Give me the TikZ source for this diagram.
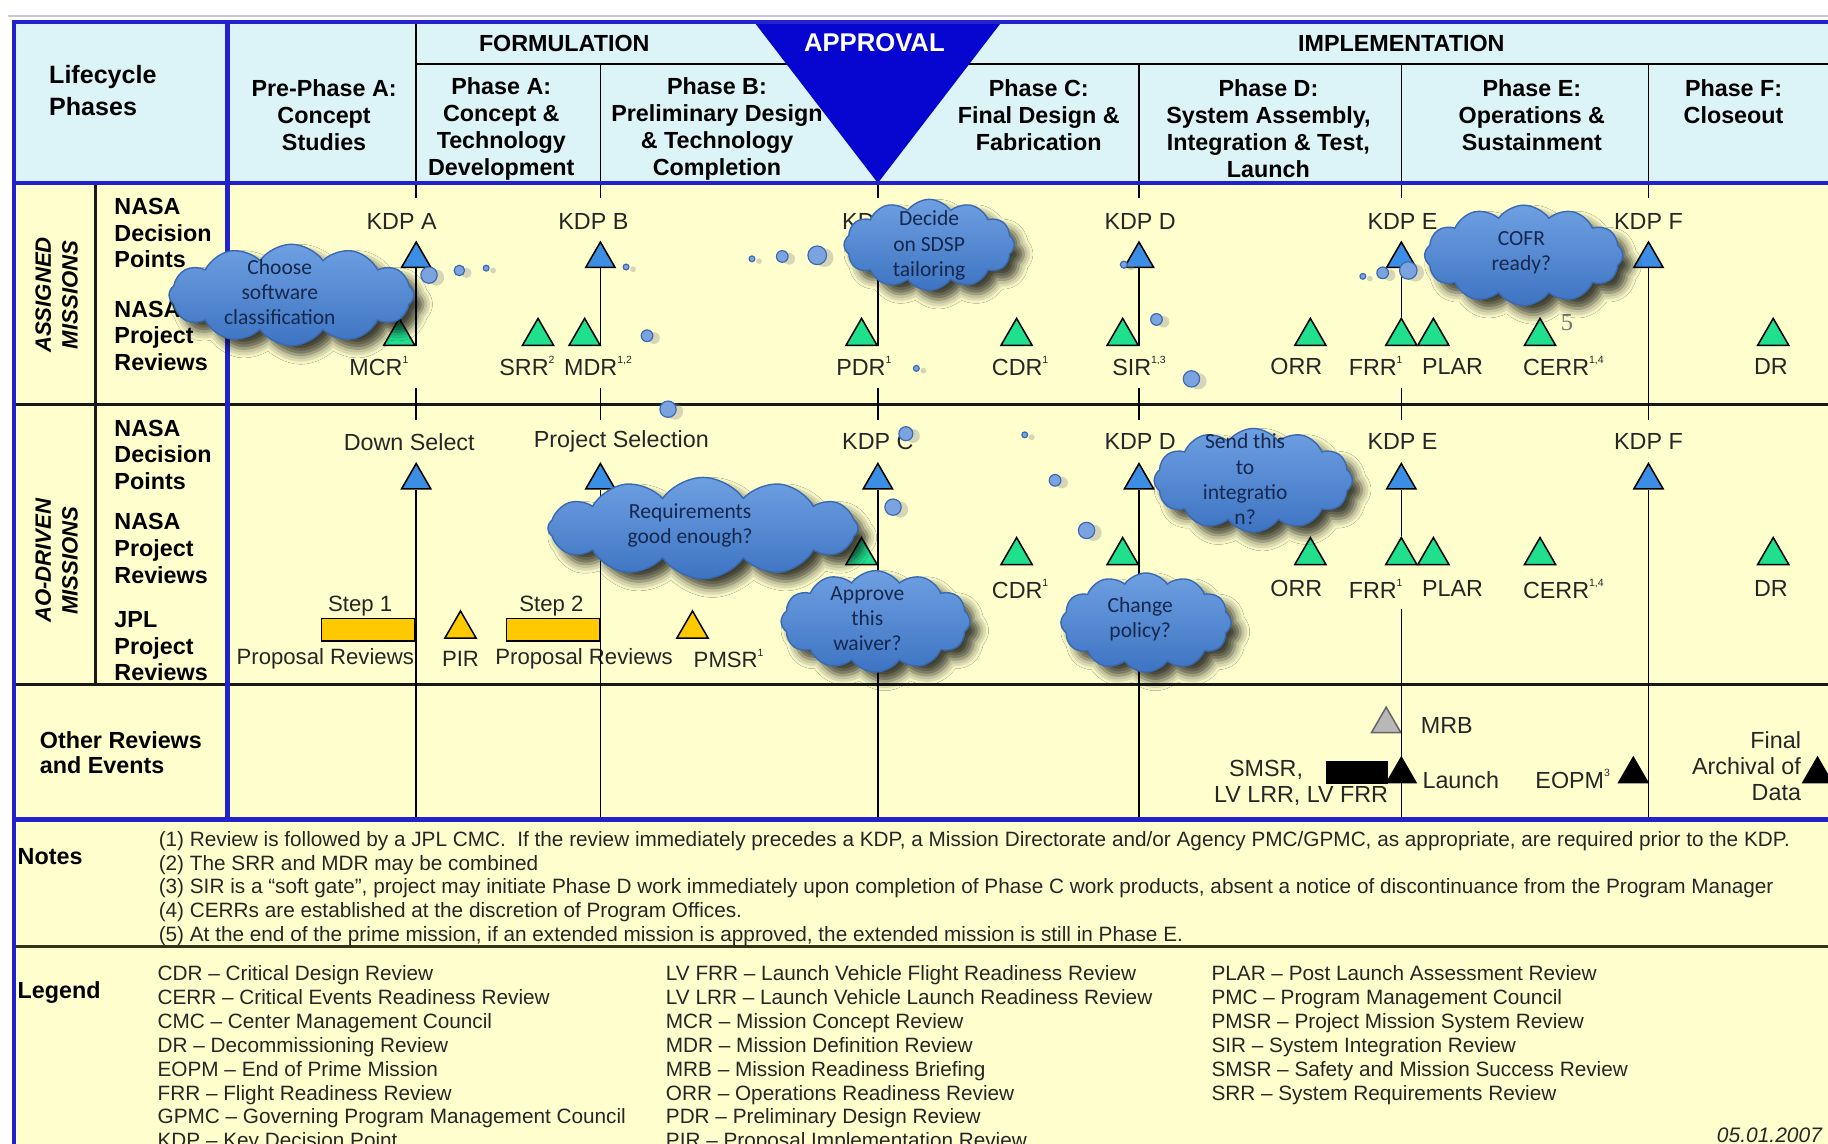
\documentclass[tikz,border=0pt]{standalone}
\usepackage{fontspec}
\setmainfont{Liberation Sans}
\newfontfamily\cloudfont{Carlito}
\newfontfamily\seriffont{Liberation Serif}
\usetikzlibrary{shapes.geometric,shapes.symbols,shadows.blur}

\definecolor{hdrcyan}{HTML}{DCF3F7}
\definecolor{bodyyel}{HTML}{FFFFCE}
\definecolor{frameblue}{HTML}{2222CC}
\definecolor{approvalblue}{HTML}{0606D0}
\definecolor{kdpblue}{HTML}{3B8EE4}
\definecolor{revgreen}{HTML}{20E08E}
\definecolor{jplyellow}{HTML}{FFC900}
\definecolor{mrbgray}{HTML}{B8B8B8}
\definecolor{cloudtop}{HTML}{6E9FE2}
\definecolor{cloudbot}{HTML}{3D74C2}
\definecolor{cloudedge}{HTML}{3A69B0}
\definecolor{cloudtext}{HTML}{16284D}
\definecolor{bubblefill}{HTML}{7AA3E0}
\definecolor{labelgray}{HTML}{262626}
\definecolor{faintline}{HTML}{C5C5DD}
\definecolor{sepline}{HTML}{33331A}

\newcommand\sps[1]{\raisebox{0.5em}{\fontsize{9}{9}\selectfont #1}}

\tikzset{
  hdrtext/.style={font=\bfseries\fontsize{20}{23}\selectfont, align=center, inner sep=0pt},
  rowtext/.style={font=\bfseries\fontsize{20}{22.8}\selectfont, align=left, anchor=west, inner sep=0pt},
  sidetext/.style={font=\bfseries\itshape\fontsize{19}{23}\selectfont, align=center, rotate=90, inner sep=0pt},
  lbl/.style={font=\fontsize{20}{22}\selectfont, text=labelgray, inner sep=0pt},
  smalllbl/.style={font=\fontsize{19}{21}\selectfont, text=labelgray, inner sep=0pt},
  tri/.style={regular polygon, regular polygon sides=3, draw=black, line width=1.3pt, inner sep=0pt, minimum size=#1},
  kdptri/.style={tri=29pt, fill=kdpblue},
  revtri/.style={tri=31pt, fill=revgreen},
  jpltri/.style={tri=31pt, fill=jplyellow},
  mrbtri/.style={tri=29pt, fill=mrbgray, draw=black!60},
  eventtri/.style={tri=29pt, fill=black},
  steprect/.style={draw=black, line width=1.3pt, fill=jplyellow, minimum width=80pt, minimum height=19pt, inner sep=0pt},
  kline/.style={line width=1.4pt, draw=black},
  rowline/.style={line width=2pt, draw=black!90},
  bluerule/.style={line width=4pt, draw=frameblue},
  thought/.style={cloud, cloud puffs=12, cloud puff arc=110, cloud ignores aspect, draw=cloudedge, line width=1.2pt, top color=cloudtop, bottom color=cloudbot, inner sep=0pt, blur shadow={shadow xshift=8pt, shadow yshift=-8pt, shadow blur radius=8pt, shadow opacity=75}},
  cloudlbl/.style={font=\cloudfont\fontsize{18.5}{21.5}\selectfont, text=cloudtext, align=center, inner sep=0pt},
  bubble/.style={circle, draw=cloudedge, line width=1pt, fill=bubblefill, inner sep=0pt, minimum size=#1,
    preaction={draw=none, fill=black!45, fill opacity=0.35, transform canvas={xshift=6pt, yshift=-2pt}}},
  notetext/.style={font=\fontsize{17.8}{20.3}\selectfont, text=labelgray, align=left, inner sep=0pt, anchor=north west},
  legtext/.style={notetext, font=\fontsize{17.8}{20.5}\selectfont},
  secthead/.style={font=\bfseries\fontsize{20}{22}\selectfont, anchor=west, inner sep=0pt},
}

\begin{document}
\begin{tikzpicture}[x=1pt,y=-1pt]
\useasboundingbox (0,0) rectangle (1568,981);
\clip (0,0) rectangle (1568,981);

% ---------- background and table ----------
\fill[white] (0,0) rectangle (1568,981);
\fill[bodyyel] (12,19) rectangle (1568,981);
\fill[hdrcyan] (12,19) rectangle (1568,157);
\draw[line width=2pt, faintline] (7,14) -- (1568,14);
\draw[kline] (357,55) -- (1568,55);
\draw[kline] (357,19) -- (357,157);
\foreach \x in {515,977,1202,1414} \draw[kline] (\x,55) -- (\x,157);
\draw[rowline] (12,347) -- (1568,347);
\draw[rowline] (12,587) -- (1568,587);
\draw[rowline] (82,157) -- (82,587);
\draw[line width=2.2pt, sepline] (12,812) -- (1568,812);
\fill[approvalblue] (647,19) -- (859,19) -- (753,157) -- cycle;
\draw[bluerule] (12,19) -- (1568,19);
\draw[bluerule] (12,157) -- (1568,157);
\draw[bluerule] (12,703) -- (1568,703);
\draw[bluerule] (12,17) -- (12,981);
\draw[bluerule] (195,17) -- (195,705);

% ---------- header ----------
\node[hdrtext, font=\bfseries\fontsize{21.5}{27.5}\selectfont, align=left, anchor=west] (lcp) at (42,78) {Lifecycle\\Phases};
\node[hdrtext] (pre) at (278,99) {Pre-Phase A:\\Concept\\Studies};
\node[hdrtext] (form) at (484,37) {FORMULATION};
\node[hdrtext, text=white, font=\bfseries\fontsize{22}{24}\selectfont] (appr) at (750,37) {APPROVAL};
\node[hdrtext] (impl) at (1202,37) {IMPLEMENTATION};
\node[hdrtext] (pA) at (430,110.5) {Phase A:\\Concept \&\\Technology\\Development};
\node[hdrtext] (pB) at (615,110.5) {Phase B:\\Preliminary Design\\\& Technology\\Completion};
\node[hdrtext] (pC) at (891,99) {Phase C:\\Final Design \&\\Fabrication};
\node[hdrtext] (pD) at (1088,110.5) {Phase D:\\System Assembly,\\Integration \& Test,\\Launch};
\node[hdrtext] (pE) at (1314,99) {Phase E:\\Operations \&\\Sustainment};
\node[hdrtext] (pF) at (1487,87.5) {Phase F:\\Closeout};

% ---------- row labels ----------
\node[sidetext] (asg) at (48.5,253) {ASSIGNED\\MISSIONS};
\node[sidetext] (aod) at (48.5,481) {AO-DRIVEN\\MISSIONS};
\node[rowtext] (ndp1) at (98,200) {NASA\\Decision\\Points};
\node[rowtext] (npr1) at (98,288) {NASA\\Project\\Reviews};
\node[rowtext] (ndp2) at (98,390) {NASA\\Decision\\Points};
\node[rowtext] (npr2) at (98,470.5) {NASA\\Project\\Reviews};
\node[rowtext] (jpr) at (98,554.5) {JPL\\Project\\Reviews};
\node[rowtext, font=\bfseries\fontsize{20}{21.5}\selectfont] (oth) at (34,645.5) {Other Reviews\\and Events};

% ---------- assigned missions ----------
\node[lbl] (lkA1) at (344.5,190) {KDP A};
\node[lbl] (lkB1) at (509,190) {KDP B};
\node[lbl] (lkC1) at (753,190) {KDP C};
\node[lbl] (lkD1) at (978,190) {KDP D};
\node[lbl] (lkE1) at (1203,190) {KDP E};
\node[lbl] (lkF1) at (1414,190) {KDP F};
\foreach \n/\x in {A/357,B/515,C/753,D/977,E/1202,F/1414}
  \node[kdptri, anchor=south] (kd\n1) at (\x,230) {};
\foreach \n/\x in {MCR/342.5,SRR/461.5,MDR/501.5,PDR/739,CDR/872,SIR/963,ORR/1124,FRR/1202,PLAR/1229.5,CERR/1321,DR/1521}
  \node[revtri, anchor=south] (r\n1) at (\x,297) {};
\node[lbl] (lMCR1) at (325,314) {MCR\sps{1}};
\node[lbl] (lSRR1) at (452,314) {SRR\sps{2}};
\node[lbl] (lMDR1) at (513,314) {MDR\sps{1,2}};
\node[lbl] (lPDR1) at (741,314) {PDR\sps{1}};
\node[lbl] (lCDR1) at (875,314) {CDR\sps{1}};
\node[lbl] (lSIR1) at (977,314) {SIR\sps{1,3}};
\node[lbl] (lORR1) at (1112,314) {ORR};
\node[lbl] (lFRR1) at (1180,314) {FRR\sps{1}};
\node[lbl] (lPLAR1) at (1246,314) {PLAR};
\node[lbl] (lCERR1) at (1341,314) {CERR\sps{1,4}};
\node[lbl] (lDR1) at (1519,314) {DR};
\node[font=\seriffont\fontsize{21}{21}\selectfont, text=black!55, inner sep=0pt] (fn5) at (1344,277) {5};

% ---------- AO-driven missions ----------
\node[lbl] (lkA2) at (351,379) {Down Select};
\node[lbl] (lkB2) at (533,379) {Project Selection};
\node[lbl] (lkC2) at (753,379) {KDP C};
\node[lbl] (lkD2) at (978,379) {KDP D};
\node[lbl] (lkE2) at (1203,379) {KDP E};
\node[lbl] (lkF2) at (1414,379) {KDP F};
\foreach \n/\x in {A/357,B/515,C/753,D/977,E/1202,F/1414}
  \node[kdptri, anchor=south] (kd\n2) at (\x,420) {};
\foreach \n/\x in {PDR/739,CDR/872,SIR/963,ORR/1124,FRR/1202,PLAR/1229.5,CERR/1321,DR/1521}
  \node[revtri, anchor=south] (r\n2) at (\x,485) {};
\node[lbl] (lCDR2) at (875,505) {CDR\sps{1}};
\node[lbl] (lORR2) at (1112,505) {ORR};
\node[lbl] (lFRR2) at (1180,505) {FRR\sps{1}};
\node[lbl] (lPLAR2) at (1246,505) {PLAR};
\node[lbl] (lCERR2) at (1341,505) {CERR\sps{1,4}};
\node[lbl] (lDR2) at (1519,505) {DR};

\node[steprect, anchor=north west] (st1) at (275,530) {};
\node[steprect, anchor=north west] (st2) at (434,530) {};
\node[smalllbl] (lst1) at (309,520) {Step 1};
\node[smalllbl] (lst2) at (473,520) {Step 2};
\node[jpltri, anchor=south] (rPIR) at (395,548) {};
\node[jpltri, anchor=south] (rPMSR) at (594,548) {};
\node[smalllbl] (lpr1) at (279,565) {Proposal Reviews};
\node[smalllbl] (lPIR) at (395,565) {PIR};
\node[smalllbl] (lpr2) at (501,565) {Proposal Reviews};
\node[smalllbl] (lPMSR) at (625,565) {PMSR\sps{1}};

% ---------- other reviews and events ----------
\node[mrbtri, anchor=south] (tMRB) at (1189,629) {};
\node[lbl] (lMRB) at (1241,622) {MRB};
\node[draw=black, fill=black, minimum width=53pt, minimum height=19pt, inner sep=0pt, anchor=north west] (smsrbar) at (1137,653) {};
\node[lbl] (lLaunch) at (1253,669) {Launch};
\node[lbl] (lSMSR) at (1086,660) {SMSR,};
\node[lbl] (lLV) at (1116,683) {LV LRR, LV FRR};
\node[lbl] (lEOPM) at (1349,668) {EOPM\sps{3}};
\node[lbl, font=\fontsize{20}{22.5}\selectfont, align=right, anchor=east] (lFinal) at (1545,657) {Final\\Archival of\\Data};

% ---------- KDP timelines ----------
\coordinate (bot) at (0,701);
\foreach \x in {357,515,753,977,1202,1414} \draw[kline] (\x,159) -- (\x,170);
\draw[kline] (kdA1.south) -- (kdA1.south |- rMCR1.south);
\draw[kline] (kdB1.south) -- (kdB1.south |- rMDR1.south);
\draw[kline] (kdC1.south) -- (kdC1.south |- rPDR1.south);
\draw[kline] (kdD1.south) -- (kdD1.south |- rSIR1.south);
\draw[kline] (kdE1.south) -- (rFRR1.north);
\draw[kline] (kdF1.south) -- (1414,360);
\foreach \x in {357,515,753,977,1202} \draw[kline] (\x,333) -- (\x,360);
\foreach \n in {A,B,C,D,F} \draw[kline] (kd\n2.south) -- (kd\n2.south |- bot);
\draw[kline] (kdE2.south) -- (rFRR2.north);
\draw[kline] (1202,522) -- (1202,701);
% event markers drawn over the timelines
\node[eventtri, anchor=south] (tLaunch) at (1202,672) {};
\node[eventtri, anchor=south] (tEOPM) at (1401,672) {};
\node[eventtri, anchor=south] (tFinal) at (1559,672) {};

% ---------- notes and legend ----------
\node[secthead] (notesh) at (15,735) {Notes};
\node[notetext] (notes) at (136,713) {(1) Review is followed by a JPL CMC.\ \ If the review immediately precedes a KDP, a Mission Directorate and/or Agency PMC/GPMC, as appropriate, are required prior to the KDP.\\
(2) The SRR and MDR may be combined\\
(3) SIR is a “soft gate”, project may initiate Phase D work immediately upon completion of Phase C work products, absent a notice of discontinuance from the Program Manager\\
(4) CERRs are established at the discretion of Program Offices.\\
(5) At the end of the prime mission, if an extended mission is approved, the extended mission is still in Phase E.};
\node[secthead] (legendh) at (15,851) {Legend};
\node[legtext] (leg1) at (135,828) {CDR – Critical Design Review\\
CERR – Critical Events Readiness Review\\
CMC – Center Management Council\\
DR – Decommissioning Review\\
EOPM – End of Prime Mission\\
FRR – Flight Readiness Review\\
GPMC – Governing Program Management Council\\
KDP – Key Decision Point};
\node[legtext] (leg2) at (571,828) {LV FRR – Launch Vehicle Flight Readiness Review\\
LV LRR – Launch Vehicle Launch Readiness Review\\
MCR – Mission Concept Review\\
MDR – Mission Definition Review\\
MRB – Mission Readiness Briefing\\
ORR – Operations Readiness Review\\
PDR – Preliminary Design Review\\
PIR – Proposal Implementation Review};
\node[legtext] (leg3) at (1039,828) {PLAR – Post Launch Assessment Review\\
PMC – Program Management Council\\
PMSR – Project Mission System Review\\
SIR – System Integration Review\\
SMSR – Safety and Mission Success Review\\
SRR – System Requirements Review};
\node[font=\itshape\fontsize{18}{18}\selectfont, text=labelgray, anchor=east, inner sep=0pt] (date) at (1563,974) {05.01.2007};

% ---------- thought bubbles ----------
\foreach \i/\x/\y/\dd in {1/368/236/14, 2/394/232/9, 3/417/230/5, 4/537/229/5, 5/645/222/5, 6/671/220/10, 7/701/219/16, 8/555/288/10, 9/573/351/14, 10/786/316/5, 11/964/227/6, 12/992/274/10, 13/1022/325/14, 14/1169/237/5, 15/1186/234/10, 16/1208/232/15, 17/777/372/12, 18/766/435/14, 19/879/373/5, 20/905/412/10, 21/932/455/14}
  \node[bubble=\dd pt] (bb\i) at (\x,\y) {};

\node[thought, minimum width=210pt, minimum height=87pt] (cl1) at (250,253) {};
\node[cloudlbl] (cl1t) at (240,250.5) {Choose\\software\\classification};
\node[thought, minimum width=146pt, minimum height=78pt] (cl2) at (797,210) {};
\node[cloudlbl] (cl2t) at (797,210.5) {Decide\\on SDSP\\tailoring};
\node[thought, minimum width=170pt, minimum height=86pt] (cl3) at (1307,219) {};
\node[cloudlbl] (cl3t) at (1305,216.5) {COFR\\ready?};
\node[thought, minimum width=266pt, minimum height=87pt] (cl4) at (603,453) {};
\node[cloudlbl] (cl4t) at (592,451) {Requirements\\good enough?};
\node[thought, minimum width=162pt, minimum height=87pt] (cl5) at (751,533) {};
\node[cloudlbl] (cl5t) at (744,531) {Approve\\this\\waiver?};
\node[thought, minimum width=146pt, minimum height=85pt] (cl6) at (983,534) {};
\node[cloudlbl] (cl6t) at (978,531) {Change\\policy?};
\node[thought, minimum width=170pt, minimum height=89pt] (cl7) at (1075,412) {};
\node[cloudlbl] (cl7t) at (1068,411) {Send this\\to\\integratio\\n?};

\end{tikzpicture}
\end{document}
